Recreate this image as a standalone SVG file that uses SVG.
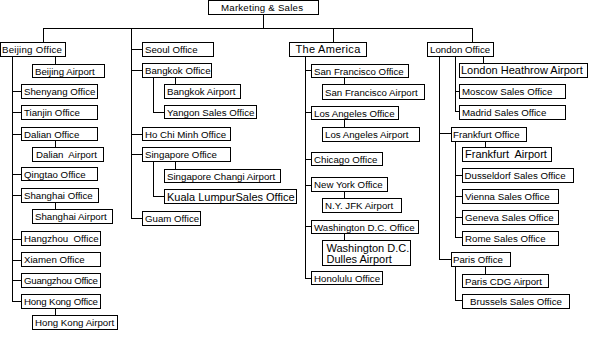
<svg xmlns="http://www.w3.org/2000/svg" width="590" height="340" viewBox="0 0 590 340">
<style>
rect{fill:#fff;stroke:#000;stroke-width:1;shape-rendering:crispEdges}
text{font-family:"Liberation Sans",Arial,sans-serif;font-size:9.7px;fill:#000}
.big{font-size:11px}
#connectors path{fill:none;stroke:#000;stroke-width:1;shape-rendering:crispEdges}
</style>
<rect x="0" y="0" width="590" height="340" style="stroke:none"/>
<g id="connectors">
<path d="M263.5 14V28.5M43.5 28.5H472.5M43.5 28V42M333.5 28V42M472.5 28V42"/>
<path d="M12.5 56V301.5M55.5 56V64M12 91.5H21M12 112.5H21M12 134.5H21M55.5 140V147M12 174.5H21M12 195.5H21M55.5 202V209M12 239.5H21M12 260.5H21M12 280.5H21M12 301.5H21M55.5 308V315"/>
<path d="M131.5 28V218.5M131 49.5H142M131 70.5H142M153.5 77V112.5H164M175.5 77V84M131 134.5H142M131 154.5H142M153.5 161V196.5H164M175.5 161V169M131 218.5H142"/>
<path d="M305.5 56V278.5M305 70.5H311M344.5 77V84M305 112.5H311M344.5 119V127M305 159.5H311M305 185.5H311M344.5 191V198M305 226.5H311M344.5 233V240M305 278.5H311"/>
<path d="M439.5 56V259.5M455.5 56V111.5H459M483.5 56V63M455 91.5H459M439 133.5H451M455.5 141V237.5H462M485.5 141V147M455 175.5H462M455 196.5H462M455 217.5H462M439 259.5H451M455.5 266V300.5H462M485.5 266V274"/>
</g>
<g id="marketing"><rect x="208.5" y="0.5" width="110" height="14"/><text x="221" y="11" textLength="82">Marketing &amp; Sales</text></g>
<g id="beijing-office"><rect x="0.5" y="42.5" width="65" height="14"/><text x="2" y="53" textLength="60">Beijing Office</text></g>
<g id="beijing-airport"><rect x="32.5" y="64.5" width="72" height="13"/><text x="35" y="75">Beijing Airport</text></g>
<g id="shenyang"><rect x="21.5" y="84.5" width="76" height="14"/><text x="24" y="95">Shenyang Office</text></g>
<g id="tianjin"><rect x="21.5" y="105.5" width="76" height="14"/><text x="24" y="116">Tianjin Office</text></g>
<g id="dalian-office"><rect x="21.5" y="127.5" width="76" height="13"/><text x="24" y="138">Dalian Office</text></g>
<g id="dalian-airport"><rect x="32.5" y="147.5" width="71" height="14"/><text x="36" y="158" xml:space="preserve">Dalian  Airport</text></g>
<g id="qingtao"><rect x="21.5" y="167.5" width="76" height="13"/><text x="24" y="178">Qingtao Office</text></g>
<g id="shanghai-office"><rect x="21.5" y="188.5" width="77" height="14"/><text x="24" y="199">Shanghai Office</text></g>
<g id="shanghai-airport"><rect x="32.5" y="209.5" width="80" height="14"/><text x="35" y="220">Shanghai Airport</text></g>
<g id="hangzhou"><rect x="21.5" y="231.5" width="79" height="14"/><text x="24" y="242" xml:space="preserve">Hangzhou  Office</text></g>
<g id="xiamen"><rect x="21.5" y="252.5" width="79" height="14"/><text x="24" y="263">Xiamen Office</text></g>
<g id="guangzhou"><rect x="21.5" y="273.5" width="79" height="14"/><text x="24" y="284" textLength="74">Guangzhou Office</text></g>
<g id="hongkong-office"><rect x="21.5" y="294.5" width="79" height="14"/><text x="24" y="305" textLength="74">Hong Kong Office</text></g>
<g id="hongkong-airport"><rect x="32.5" y="315.5" width="85" height="14"/><text x="35" y="326">Hong Kong Airport</text></g>
<g id="seoul"><rect x="142.5" y="42.5" width="71" height="14"/><text x="145" y="53">Seoul Office</text></g>
<g id="bangkok-office"><rect x="142.5" y="63.5" width="69" height="14"/><text x="145" y="74">Bangkok Office</text></g>
<g id="bangkok-airport"><rect x="164.5" y="84.5" width="76" height="14"/><text x="167" y="95">Bangkok Airport</text></g>
<g id="yangon"><rect x="164.5" y="105.5" width="92" height="13"/><text x="167" y="116">Yangon Sales Office</text></g>
<g id="hochiminh"><rect x="142.5" y="127.5" width="88" height="13"/><text x="145" y="138">Ho Chi Minh Office</text></g>
<g id="singapore-office"><rect x="142.5" y="147.5" width="88" height="14"/><text x="145" y="158">Singapore Office</text></g>
<g id="singapore-airport"><rect x="164.5" y="169.5" width="116" height="13"/><text x="167" y="180">Singapore Changi Airport</text></g>
<g id="kuala"><rect x="164.5" y="189.5" width="132" height="14"/><text class="big" x="167" y="200.5">Kuala LumpurSales Office</text></g>
<g id="guam"><rect x="142.5" y="211.5" width="58" height="14"/><text x="145" y="222">Guam Office</text></g>
<g id="america"><rect x="289.5" y="42.5" width="77" height="14"/><text class="big" x="295.5" y="53" letter-spacing="0.3">The America</text></g>
<g id="sf-office"><rect x="311.5" y="64.5" width="97" height="13"/><text x="314" y="75">San Francisco Office</text></g>
<g id="sf-airport"><rect x="322.5" y="84.5" width="102" height="15"/><text x="325" y="95.5">San Francisco Airport</text></g>
<g id="la-office"><rect x="311.5" y="106.5" width="87" height="13"/><text x="314" y="117">Los Angeles Office</text></g>
<g id="la-airport"><rect x="322.5" y="127.5" width="97" height="14"/><text x="325" y="138">Los Angeles Airport</text></g>
<g id="chicago"><rect x="311.5" y="152.5" width="71" height="13"/><text x="314" y="163">Chicago Office</text></g>
<g id="ny-office"><rect x="311.5" y="177.5" width="76" height="14"/><text x="314" y="188">New York Office</text></g>
<g id="ny-airport"><rect x="322.5" y="198.5" width="79" height="14"/><text x="325" y="209">N.Y. JFK Airport</text></g>
<g id="dc-office"><rect x="311.5" y="220.5" width="107" height="13"/><text x="314" y="231">Washington D.C. Office</text></g>
<g id="dc-airport"><rect x="322.5" y="240.5" width="88" height="25"/><text class="big" x="326.5" y="252">Washington D.C.</text><text class="big" x="326.5" y="263">Dulles Airport</text></g>
<g id="honolulu"><rect x="311.5" y="271.5" width="71" height="13"/><text x="314" y="282">Honolulu Office</text></g>
<g id="london-office"><rect x="427.5" y="42.5" width="66" height="14"/><text x="430" y="53">London Office</text></g>
<g id="heathrow"><rect x="459.5" y="63.5" width="128" height="14"/><text class="big" x="461" y="74">London Heathrow Airport</text></g>
<g id="moscow"><rect x="459.5" y="84.5" width="106" height="14"/><text x="462" y="95">Moscow Sales Office</text></g>
<g id="madrid"><rect x="459.5" y="105.5" width="106" height="14"/><text x="462" y="116">Madrid Sales Office</text></g>
<g id="frankfurt-office"><rect x="451.5" y="127.5" width="75" height="14"/><text x="453" y="138">Frankfurt Office</text></g>
<g id="frankfurt-airport"><rect x="462.5" y="147.5" width="89" height="14"/><text class="big" x="465" y="158" xml:space="preserve">Frankfurt  Airport</text></g>
<g id="dusseldorf"><rect x="462.5" y="168.5" width="111" height="14"/><text x="464.5" y="179">Dusseldorf Sales Office</text></g>
<g id="vienna"><rect x="462.5" y="189.5" width="96" height="14"/><text x="465" y="200">Vienna Sales Office</text></g>
<g id="geneva"><rect x="462.5" y="210.5" width="96" height="14"/><text x="465" y="221">Geneva Sales Office</text></g>
<g id="rome"><rect x="462.5" y="231.5" width="96" height="14"/><text x="465" y="242">Rome Sales Office</text></g>
<g id="paris-office"><rect x="451.5" y="252.5" width="59" height="14"/><text x="453" y="263">Paris Office</text></g>
<g id="paris-airport"><rect x="462.5" y="274.5" width="86" height="13"/><text x="465" y="285">Paris CDG Airport</text></g>
<g id="brussels"><rect x="462.5" y="294.5" width="107" height="14"/><text x="470" y="305">Brussels Sales Office</text></g>
</svg>
